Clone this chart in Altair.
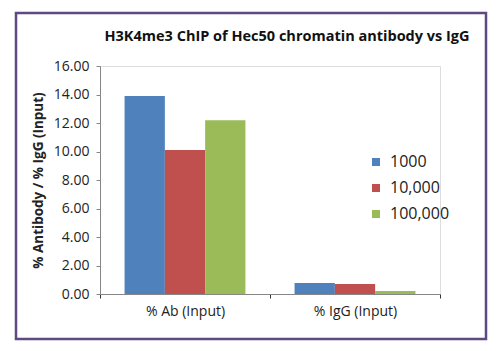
import altair as alt
import pandas as pd

categories = ["% Ab (Input)", "% IgG (Input)"]
series = ["1000", "10,000", "100,000"]
values_1000 = [13.9, 0.78]
values_10000 = [10.1, 0.70]
values_100000 = [12.2, 0.21]
colors = ["#4f81bd", "#c0504d", "#9bbb59"]
y_ticks = [0, 2, 4, 6, 8, 10, 12, 14, 16]
title_text = "H3K4me3 ChIP of Hec50 chromatin antibody vs IgG"
y_title = "% Antibody / % IgG (Input)"

rows = []
for s, vals in zip(series, [values_1000, values_10000, values_100000]):
    for c, v in zip(categories, vals):
        rows.append({"category": c, "series": s, "value": v})
df = pd.DataFrame(rows)

FONT = "Open Sans"

bars = alt.Chart(df).mark_bar().encode(
    x=alt.X("category:N", sort=categories,
            scale=alt.Scale(paddingInner=0, paddingOuter=0),
            axis=alt.Axis(title=None, labelAngle=0, tickBand="extent",
                          labelFontSize=14, labelColor="#222222", labelFont=FONT,
                          domainColor="#868686", tickColor="#333333",
                          tickSize=4, labelPadding=6)),
    xOffset=alt.XOffset("series:N", sort=series,
                        scale=alt.Scale(paddingInner=0, paddingOuter=0.61)),
    y=alt.Y("value:Q", scale=alt.Scale(domain=[0, 16], nice=False),
            axis=alt.Axis(title=y_title, values=y_ticks, format=".2f",
                          grid=False, labelFontSize=14, labelColor="#222222",
                          labelFont=FONT, titleFont=FONT, titleFontSize=13.5,
                          titleFontWeight="bold", titleColor="#222222",
                          domainColor="#868686", tickColor="#868686",
                          tickSize=4, labelPadding=7, titlePadding=8)),
    color=alt.Color("series:N", sort=series,
                    scale=alt.Scale(domain=series, range=colors),
                    legend=alt.Legend(title=None, orient="none", legendX=268, legendY=88,
                                      symbolType="square", symbolSize=64,
                                      symbolStrokeWidth=0,
                                      labelFontSize=16, labelFont=FONT,
                                      labelColor="#222222", rowPadding=10,
                                      labelOffset=6)),
)

border = alt.Chart(pd.DataFrame({"b": [0]})).mark_rect(
    fillOpacity=0, stroke="#5e4a80", strokeWidth=2.5, clip=False
).encode(
    x=alt.value(-84), x2=alt.value(386), y=alt.value(-53), y2=alt.value(273)
)

title = alt.Chart(pd.DataFrame({"t": [title_text]})).mark_text(
    font=FONT, fontSize=14.5, fontWeight="bold", color="#111111",
    align="center", baseline="middle", clip=False
).encode(
    text="t:N", x=alt.value(187), y=alt.value(-29)
)

chart = alt.layer(border, title, bars).properties(
    width=340, height=228,
    padding={"left": 100, "top": 66, "right": 62, "bottom": 57},
    autosize=alt.AutoSizeParams(type="none"),
).configure_view(stroke=None).configure(background="white")

chart.save("out.html", embed_options={"renderer": "svg", "actions": False})
